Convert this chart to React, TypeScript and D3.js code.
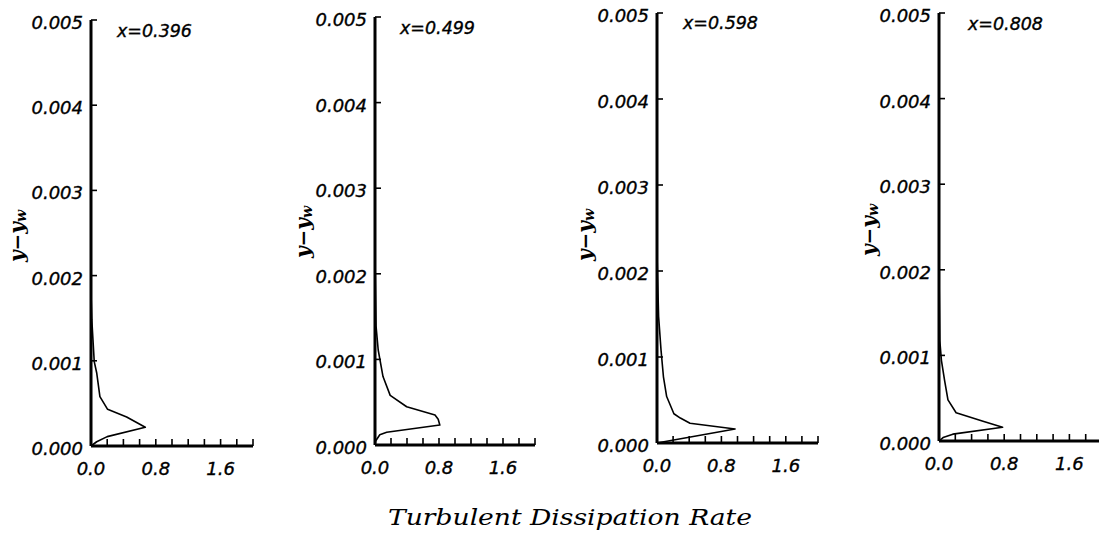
import React from "react";
import * as d3 from "d3";

// ---- data ----
const stationLabels = ["x=0.396", "x=0.499", "x=0.598", "x=0.808"];
const yTicks = [0, 0.001, 0.002, 0.003, 0.004, 0.005];
const yTickLabels = ["0.000", "0.001", "0.002", "0.003", "0.004", "0.005"];
const xTicks = [0, 0.2, 0.4, 0.6, 0.8, 1.0, 1.2, 1.4, 1.6, 1.8, 2.0];
const xTickLabelValues = [0, 0.8, 1.6];
const xTickLabels = ["0.0", "0.8", "1.6"];
const xTitle = "Turbulent Dissipation Rate";

// profile x = 0.396
const eps396 = [0.0, 0.0, 0.01, 0.04, 0.07, 0.11, 0.205, 0.44, 0.67, 0.2, 0.07, 0.0];
const yw396 = [0.005, 0.0018, 0.00148, 0.00099, 0.00086, 0.00058, 0.00043, 0.00034, 0.00022, 0.00011, 0.00005, 0.0];
// profile x = 0.499
const eps499 = [0.0, 0.0, 0.013, 0.04, 0.1, 0.19, 0.396, 0.75, 0.79, 0.81, 0.146, 0.06, 0.01, 0.0];
const yw499 = [0.005, 0.0022, 0.00139, 0.00111, 0.0008, 0.00058, 0.000447, 0.00035, 0.0003, 0.000233, 0.000148, 0.00012, 0.00005, 0.0];
// profile x = 0.598
const eps598 = [0.0, 0.0, 0.02, 0.05, 0.08, 0.12, 0.21, 0.29, 0.41, 0.97, 0.0];
const yw598 = [0.005, 0.0022, 0.00147, 0.00108, 0.00077, 0.00054, 0.00034, 0.00029, 0.00023, 0.000163, 0.0];
// profile x = 0.808
const eps808 = [0.0, 0.0, 0.01, 0.03, 0.07, 0.11, 0.21, 0.54, 0.78, 0.17, 0.05, 0.0];
const yw808 = [0.005, 0.002, 0.00117, 0.00094, 0.0007, 0.00048, 0.00033, 0.00023, 0.00016, 0.00008, 0.00004, 0.0];

const profiles = [
  { eps: eps396, yw: yw396 },
  { eps: eps499, yw: yw499 },
  { eps: eps598, yw: yw598 },
  { eps: eps808, yw: yw808 },
];

// ---- layout ----
const panels = [
  { left: 91, right: 253, top: 20, bottom: 446, ylabX: 18, ylabY: 236, titleX: 117, titleY: 37 },
  { left: 375, right: 535, top: 17, bottom: 445, ylabX: 304, ylabY: 232, titleX: 400, titleY: 34 },
  { left: 657, right: 818, top: 13, bottom: 443, ylabX: 586, ylabY: 235, titleX: 683, titleY: 29 },
  { left: 939, right: 1102, top: 13, bottom: 441, ylabX: 870, ylabY: 230, titleX: 968, titleY: 30 },
];

const tickFont = "'DejaVu Sans', sans-serif";
const serifFont = "'DejaVu Serif', serif";

function Panel({ i }: { i: number }) {
  const p = panels[i];
  const x = d3.scaleLinear().domain([0, 2]).range([p.left, p.right]);
  const y = d3.scaleLinear().domain([0, 0.005]).range([p.bottom, p.top]);
  const prof = profiles[i];
  const pts: [number, number][] = prof.eps.map((e, k) => [e, prof.yw[k]]);
  const line = d3
    .line<[number, number]>()
    .x((d) => x(d[0]))
    .y((d) => y(d[1]));
  const txt = { fontFamily: tickFont, fontStyle: "italic", stroke: "#000", strokeWidth: 0.35 } as const;
  return (
    <g>
      <path d={line(pts) || ""} fill="none" stroke="#000" strokeWidth={1.6} strokeLinejoin="round" />
      <line x1={x(0)} x2={x(0)} y1={y(0.005)} y2={y(0)} stroke="#000" strokeWidth={3} />
      {yTicks.map((t, k) => (
        <g key={"yt" + k}>
          <line x1={x(0)} x2={x(0) + 6} y1={y(t)} y2={y(t)} stroke="#000" strokeWidth={1.6} />
          <text x={x(0) - 8} y={y(t) + 9} textAnchor="end" fontSize={18} {...txt}>
            {yTickLabels[k]}
          </text>
        </g>
      ))}
      <line x1={x(0)} x2={x(2)} y1={y(0)} y2={y(0)} stroke="#000" strokeWidth={3} />
      {xTicks.map((t, k) => (
        <line key={"xt" + k} x1={x(t)} x2={x(t)} y1={y(0)} y2={y(0) - 7} stroke="#000" strokeWidth={1.6} />
      ))}
      {xTickLabelValues.map((t, k) => (
        <text key={"xl" + k} x={x(t)} y={y(0) + 29} textAnchor="middle" fontSize={18} {...txt}>
          {xTickLabels[k]}
        </text>
      ))}
      <text x={p.titleX} y={p.titleY} fontSize={17} textLength={75} lengthAdjust="spacingAndGlyphs" {...txt}>
        {stationLabels[i]}
      </text>
      <text
        transform={`translate(${p.ylabX},${p.ylabY}) rotate(-90)`}
        textAnchor="middle"
        dominantBaseline="middle"
        fontFamily={serifFont}
        fontStyle="italic"
        fontWeight="bold"
        fontSize={20}
      >
        y−y
        <tspan fontSize={14} dy={4}>
          w
        </tspan>
      </text>
    </g>
  );
}

export default function App() {
  return (
    <svg width={1099} height={540} style={{ position: "absolute", left: 0, top: 0, background: "#fff" }}>
      <rect width={1099} height={540} fill="#fff" />
      {panels.map((_, i) => (
        <Panel key={i} i={i} />
      ))}
      <text
        x={570}
        y={525}
        textAnchor="middle"
        fontFamily={serifFont}
        fontStyle="italic"
        fontSize={23}
        textLength={364}
        lengthAdjust="spacingAndGlyphs"
      >
        {xTitle}
      </text>
    </svg>
  );
}
